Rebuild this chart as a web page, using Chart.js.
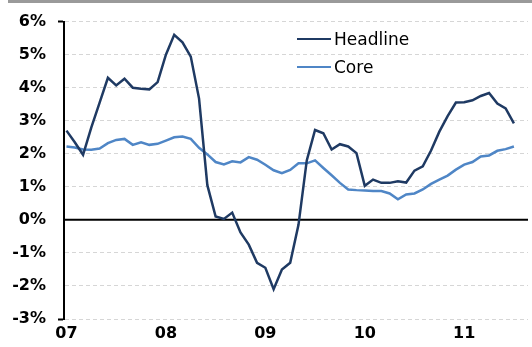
<!DOCTYPE html>
<html>
<head>
<meta charset="utf-8">
<script src="https://cdn.jsdelivr.net/npm/chart.js@4/dist/chart.umd.min.js"></script>
<style>
  body { margin: 0; background: #fff; }
  #wrap { position: relative; width: 532px; height: 347px; }
  #topbar { position: absolute; left: 8px; right: 0; top: 0; height: 3px; background: #9a9a9a; }
  .leg { position: absolute; left: 297px; height: 20px; display: flex; align-items: center;
         font: 17px "DejaVu Sans", sans-serif; color: #000; }
  .leg span.ln { display: inline-block; width: 34px; height: 2.5px; margin-right: 3px; }
</style>
</head>
<body>
<div id="wrap">
  <canvas id="inflationChart"></canvas>
  <div id="topbar"></div>
  <div class="leg" style="top: 29px;"><span class="ln" style="background:#1f3a63"></span>Headline</div>
  <div class="leg" style="top: 57px;"><span class="ln" style="background:#4f86c6"></span>Core</div>
</div>
<script>
// monthly, Jan 2007 - Jul 2011
const headline = [
    2.70, 2.35, 1.97, 2.80, 3.55, 4.30, 4.07, 4.27, 4.00, 3.97, 3.95, 4.17,
    5.00, 5.60, 5.37, 4.94, 3.67, 1.05, 0.10, 0.03, 0.22, -0.38, -0.75, -1.30,
    -1.45, -2.10, -1.50, -1.30, -0.15, 1.80, 2.72, 2.62, 2.13, 2.29, 2.22, 2.02,
    1.03, 1.22, 1.12, 1.12, 1.17, 1.13, 1.49, 1.62, 2.10, 2.67, 3.14, 3.55,
    3.56, 3.62, 3.75, 3.84, 3.52, 3.37, 2.92
];
const core = [
    2.22, 2.19, 2.13, 2.12, 2.16, 2.32, 2.42, 2.45, 2.27, 2.35, 2.27, 2.30,
    2.40, 2.50, 2.52, 2.45, 2.18, 1.98, 1.75, 1.68, 1.77, 1.74, 1.90, 1.82,
    1.67, 1.50, 1.41, 1.51, 1.71, 1.71, 1.80, 1.57, 1.35, 1.12, 0.92, 0.90,
    0.89, 0.87, 0.87, 0.80, 0.62, 0.77, 0.80, 0.92, 1.09, 1.22, 1.34, 1.52,
    1.67, 1.75, 1.92, 1.95, 2.09, 2.14, 2.22
];
const yearLabels = ['07', '08', '09', '10', '11'];
const yearTicks = [0, 12, 24, 36, 48];

const toPoints = arr => arr.map((v, i) => ({ x: i, y: v }));

const zeroLine = {
    id: 'zeroLine',
    beforeDatasetsDraw(chart) {
        const y = chart.scales.y.getPixelForValue(0);
        const ctx = chart.ctx;
        ctx.save();
        ctx.strokeStyle = '#000';
        ctx.lineWidth = 2;
        ctx.beginPath();
        ctx.moveTo(chart.chartArea.left, y);
        ctx.lineTo(chart.chartArea.right, y);
        ctx.stroke();
        ctx.restore();
    }
};

const tickFont = { family: 'DejaVu Sans', size: 16, weight: 'bold' };

new Chart(document.getElementById('inflationChart'), {
    type: 'line',
    data: {
        datasets: [{
            label: 'Headline',
            data: toPoints(headline),
            borderColor: '#1f3a63',
            borderWidth: 2.5,
            pointRadius: 0,
            tension: 0
        }, {
            label: 'Core',
            data: toPoints(core),
            borderColor: '#4f86c6',
            borderWidth: 2.5,
            pointRadius: 0,
            tension: 0
        }]
    },
    options: {
        responsive: true,
        maintainAspectRatio: false,
        animation: false,
        layout: { padding: { top: 20, right: 4, left: 0, bottom: 0 } },
        plugins: {
            legend: { display: false },
            tooltip: { enabled: false }
        },
        scales: {
            x: {
                type: 'linear',
                min: -0.3,
                max: 55.7,
                afterBuildTicks: scale => {
                    scale.ticks = yearTicks.map(v => ({ value: v }));
                },
                afterFit: scale => { scale.height = 28; },
                grid: { display: false, drawTicks: false },
                border: { display: false },
                ticks: {
                    color: '#000',
                    font: tickFont,
                    padding: 5,
                    maxRotation: 0,
                    autoSkip: false,
                    callback: v => yearLabels[yearTicks.indexOf(v)]
                }
            },
            y: {
                min: -3,
                max: 6,
                afterFit: scale => { scale.width = 64; },
                grid: {
                    color: '#d6d6d6',
                    lineWidth: 1,
                    tickLength: 6,
                    tickColor: c => (c.tick && (c.tick.value === 6 || c.tick.value === -3)) ? '#000' : 'rgba(0,0,0,0)',
                    tickWidth: 2
                },
                border: { color: '#000', width: 2, dash: [4, 3] },
                ticks: {
                    stepSize: 1,
                    color: '#000',
                    font: tickFont,
                    padding: 12,
                    callback: v => v + '%'
                }
            }
        }
    },
    plugins: [zeroLine]
});
</script>
</body>
</html>
